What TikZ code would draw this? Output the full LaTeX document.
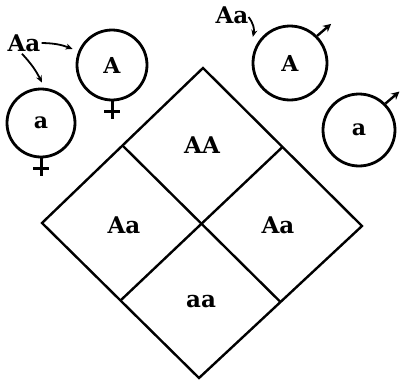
\documentclass[tikz,border=0pt]{standalone}
\usepackage{fontspec}
\setmainfont{DejaVu Serif}
\usepackage{tikz}
\usetikzlibrary{arrows.meta, positioning, calc}

\begin{document}
\begin{tikzpicture}[x=1pt,y=-1pt,
  gamete/.style={draw, circle, line width=2.8pt, minimum size=70pt, inner sep=0pt,
    font=\fontsize{22}{24}\selectfont\bfseries},
  geno/.style={font=\fontsize{23}{26}\selectfont\bfseries, inner sep=1pt},
  pointer/.style={line width=1.8pt, -{Stealth[length=7pt,width=6pt]}},
  grid/.style={line width=2.4pt}]
  \useasboundingbox (0,0) rectangle (400,386);
  % female gametes
  \node[gamete] (fA) at (112,65) {A};
  \node[gamete, minimum size=68pt] (fa) at (41,123) {a};
  \foreach \g in {fA,fa} {
    \draw[grid, line width=3pt] (\g.south) -- ++(0,18) coordinate (\g-foot);
    \draw[grid, line width=3pt] ($(\g-foot)+(-8,-8)$) -- ++(16,0);
  }
  % male gametes
  \node[gamete, minimum size=74pt] (mA) at (290,63) {A};
  \node[gamete, minimum size=72pt] (ma) at (359,130) {a};
  \foreach \g in {mA,ma}
    \draw[grid, -{Stealth[length=8pt,width=8pt,open]}] (\g.north east) -- ++(14,-12);
  % parents
  \node[geno] (pf) at (24,43) {Aa};
  \node[geno] (pm) at (232,15) {Aa};
  \draw[pointer] (pf.east) to[bend left=10] ($(fA.west)+(-3,-16)$);
  \draw[pointer] ($(pf.south)+(-2,1)$) to[bend left=8] ($(fa.north)+(1,-5)$);
  \draw[pointer] ($(pm.east)+(-1,2)$) to[bend left=25] ($(mA.north west)+(-10,1)$);
  % square
  \coordinate (top) at (203,68);
  \coordinate (lft) at (42,223);
  \coordinate (rgt) at (362,226);
  \coordinate (bot) at (199,378);
  \draw[grid] (top) -- (rgt) -- (bot) -- (lft) -- cycle;
  \draw[grid] ($(top)!0.5!(lft)$) -- ($(rgt)!0.5!(bot)$);
  \draw[grid] ($(top)!0.5!(rgt)$) -- ($(lft)!0.5!(bot)$);
  \node[geno] (AA) at (202,145) {AA};
  \node[geno] (Aa1) at (124,225) {Aa};
  \node[geno] (Aa2) at (278,225) {Aa};
  \node[geno] (aa) at (201,302) {aa};
\end{tikzpicture}
\end{document}
